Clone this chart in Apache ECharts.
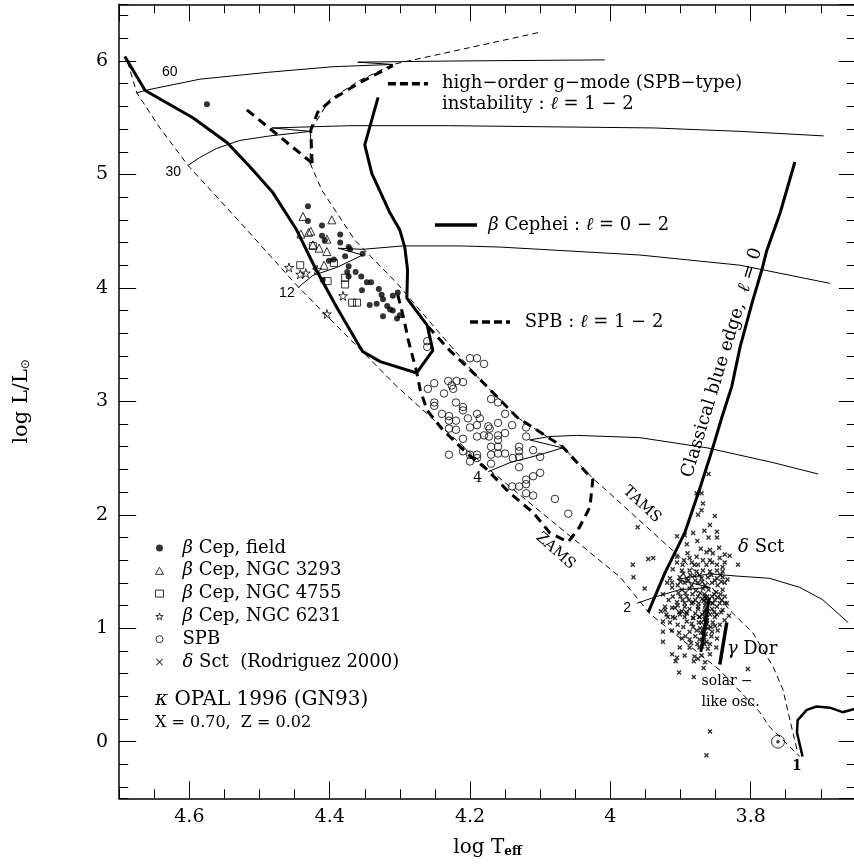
<!DOCTYPE html>
<html>
<head>
<meta charset="utf-8">
<title>HR diagram – pulsational instability</title>
<script src="https://cdn.jsdelivr.net/npm/echarts@6/dist/echarts.min.js"></script>
<style>
html,body{margin:0;padding:0;background:#fff;}
#chart{width:854px;height:865px;}
</style>
</head>
<body>
<div id="chart"></div>
<script>
// ================= DATA : [log Teff, log L/Lsun] =================
const xRange = [3.65, 4.70];
const yRange = [-0.5, 6.5];
const xMajorStep = 0.2, xMinorStep = 0.05;
const yMajorStep = 1, yMinorStep = 0.2;

const zams = [[4.688,5.99],[4.675,5.72],[4.642,5.41],[4.602,5.08],[4.528,4.58],[4.445,4.01],[4.304,3.13],[4.175,2.41],[3.986,1.45],[3.944,1.13],[3.844,0.63],[3.787,0.26],[3.773,0.13],[3.730,-0.13]];
const tams = [[4.103,6.25],[4.310,5.97],[4.357,5.83],[4.400,5.66],[4.427,5.39],[4.428,5.10],[4.411,4.86],[4.364,4.42],[4.304,4.04],[4.260,3.72],[4.190,3.22],[4.133,2.86],[4.068,2.60],[4.025,2.32],[4.001,2.19],[3.912,1.69],[3.858,1.38],[3.830,1.16],[3.797,0.96],[3.768,0.66],[3.754,0.46],[3.744,0.19],[3.734,-0.07]];

const track60 = [[4.675,5.72],[4.660,5.745],[4.585,5.84],[4.489,5.90],[4.395,5.95],[4.310,5.97],[4.360,5.99],[4.229,6.00],[4.008,6.01]];
const track30 = [[4.602,5.08],[4.585,5.15],[4.561,5.23],[4.528,5.30],[4.485,5.34],[4.427,5.38],[4.482,5.41],[4.371,5.43],[4.229,5.43],[4.086,5.42],[3.938,5.41],[3.815,5.38],[3.696,5.34]];
const track12 = [[4.445,4.00],[4.438,4.04],[4.424,4.11],[4.390,4.18],[4.353,4.29],[4.388,4.35],[4.353,4.34],[4.296,4.37],[4.214,4.37],[4.157,4.36],[4.100,4.34],[3.958,4.29],[3.815,4.20],[3.687,4.04]];
const track4  = [[4.174,2.38],[4.143,2.46],[4.100,2.53],[4.068,2.59],[4.115,2.66],[4.086,2.69],[4.048,2.70],[3.958,2.68],[3.862,2.59],[3.768,2.46],[3.704,2.36]];
const track2  = [[3.962,1.22],[3.934,1.28],[3.901,1.34],[3.858,1.36],[3.905,1.43],[3.858,1.48],[3.820,1.46],[3.773,1.44],[3.730,1.36],[3.697,1.25],[3.661,1.05]];
const track1  = [[3.726,-0.13],[3.734,0.08],[3.733,0.19],[3.720,0.28],[3.706,0.31],[3.687,0.30],[3.669,0.26],[3.651,0.29]];

// beta Cephei instability boundary (l = 0-2)
const betaCepEdge = [[4.692,6.04],[4.663,5.74],[4.595,5.50],[4.546,5.28],[4.514,5.07],[4.481,4.84],[4.447,4.51],[4.421,4.18],[4.390,3.83],[4.357,3.48],[4.353,3.44],[4.328,3.35],[4.276,3.25],[4.253,3.45],[4.261,3.67],[4.290,3.91],[4.289,4.16],[4.293,4.36],[4.300,4.51],[4.314,4.66],[4.340,5.01],[4.350,5.26],[4.331,5.68]];
// high-order g-mode instability (massive stars)
const gmodeBlue = [[4.518,5.57],[4.425,5.10]];
const gmodeRed  = [[4.425,5.10],[4.427,5.39],[4.417,5.55],[4.397,5.66],[4.357,5.81],[4.310,5.96]];
// SPB instability boundary (l = 1-2)
const spbEdge = [[4.303,3.94],[4.294,3.72],[4.288,3.54],[4.276,3.26],[4.271,3.10],[4.261,2.92],[4.239,2.75],[4.204,2.54],[4.176,2.40],[4.143,2.19],[4.110,2.02],[4.086,1.84],[4.060,1.76],[4.044,1.89],[4.029,2.07],[4.025,2.31],[4.068,2.60],[4.133,2.86],[4.190,3.22],[4.229,3.45],[4.260,3.66]];
// classical blue edge (l = 0)
const classicalBlueEdge = [[3.737,5.11],[3.758,4.66],[3.777,4.33],[3.784,4.16],[3.797,3.89],[3.815,3.48],[3.827,3.13],[3.841,2.86],[3.855,2.57],[3.872,2.24],[3.894,1.84],[3.922,1.49],[3.946,1.14]];
// gamma Doradus strip
const gDorBlue = [[3.859,1.27],[3.871,0.79]];
const gDorRed  = [[3.834,1.05],[3.844,0.68]];

// observed stars
const bCepField = [[4.575,5.62],[4.431,4.72],[4.431,4.59],[4.411,4.55],[4.385,4.47],[4.411,4.46],[4.407,4.42],[4.385,4.40],[4.373,4.36],[4.371,4.34],[4.378,4.28],[4.353,4.30],[4.401,4.24],[4.373,4.19],[4.375,4.14],[4.363,4.14],[4.373,4.10],[4.355,4.10],[4.347,4.05],[4.341,4.05],[4.410,4.07],[4.354,3.98],[4.330,3.99],[4.326,3.94],[4.324,3.90],[4.310,3.93],[4.303,3.96],[4.333,3.86],[4.343,3.85],[4.318,3.84],[4.314,3.81],[4.310,3.80],[4.324,3.75],[4.300,3.76],[4.304,3.73],[4.394,4.25]];
const bCepN3293 = [[4.438,4.63],[4.397,4.60],[4.427,4.50],[4.430,4.49],[4.441,4.475],[4.404,4.43],[4.424,4.38],[4.415,4.35],[4.404,4.32],[4.408,4.20]];
const bCepN4755 = [[4.442,4.20],[4.424,4.37],[4.394,4.22],[4.403,4.06],[4.378,4.09],[4.378,4.03],[4.368,3.87],[4.361,3.87]];
const bCepN6231 = [[4.458,4.18],[4.442,4.12],[4.434,4.13],[4.418,4.16],[4.381,3.93],[4.404,3.77]];
const spbStars = [[4.261,3.53],[4.261,3.48],[4.200,3.38],[4.190,3.38],[4.180,3.33],[4.251,3.16],[4.231,3.18],[4.219,3.18],[4.210,3.17],[4.226,3.14],[4.224,3.11],[4.237,3.07],[4.260,3.11],[4.251,2.99],[4.251,2.96],[4.220,2.99],[4.210,2.95],[4.210,2.92],[4.170,3.02],[4.160,2.99],[4.240,2.89],[4.230,2.87],[4.230,2.83],[4.220,2.83],[4.203,2.85],[4.190,2.89],[4.186,2.85],[4.150,2.89],[4.230,2.76],[4.220,2.75],[4.200,2.77],[4.190,2.79],[4.174,2.78],[4.172,2.76],[4.160,2.81],[4.140,2.79],[4.120,2.77],[4.210,2.67],[4.190,2.69],[4.180,2.70],[4.173,2.69],[4.160,2.70],[4.160,2.66],[4.150,2.72],[4.120,2.69],[4.170,2.60],[4.160,2.60],[4.130,2.60],[4.130,2.56],[4.230,2.53],[4.210,2.56],[4.200,2.53],[4.190,2.53],[4.200,2.47],[4.190,2.50],[4.170,2.53],[4.160,2.54],[4.150,2.54],[4.139,2.50],[4.130,2.51],[4.110,2.57],[4.100,2.51],[4.170,2.45],[4.130,2.42],[4.110,2.34],[4.100,2.37],[4.120,2.31],[4.120,2.27],[4.130,2.25],[4.140,2.25],[4.120,2.19],[4.110,2.17],[4.079,2.14],[4.060,2.01]];
const dSctStars = [[3.860,2.36],[3.877,2.19],[3.870,2.19],[3.868,2.10],[3.870,2.04],[3.875,2.00],[3.851,1.99],[3.858,1.91],[3.961,1.89],[3.848,1.85],[3.882,1.84],[3.894,1.82],[3.905,1.81],[3.860,1.80],[3.848,1.80],
[3.891,1.74],[3.871,1.70],[3.858,1.69],[3.845,1.71],[3.854,1.66],[3.837,1.65],[3.830,1.64],
[3.905,1.63],[3.939,1.62],[3.946,1.61],[3.895,1.60],[3.887,1.62],[3.877,1.63],[3.868,1.60],[3.858,1.60],[3.844,1.62],[3.837,1.58],
[3.968,1.56],[3.905,1.58],[3.897,1.56],[3.884,1.58],[3.875,1.56],[3.863,1.56],[3.848,1.56],[3.840,1.54],[3.818,1.56],
[3.911,1.52],[3.898,1.51],[3.887,1.51],[3.877,1.50],[3.868,1.51],[3.858,1.50],[3.848,1.51],[3.840,1.50],
[3.967,1.45],[3.915,1.44],[3.901,1.45],[3.891,1.44],[3.880,1.46],[3.870,1.44],[3.861,1.45],[3.848,1.44],[3.840,1.45],[3.833,1.43],
[3.912,1.40],[3.904,1.38],[3.894,1.40],[3.884,1.38],[3.875,1.40],[3.865,1.38],[3.855,1.40],[3.847,1.38],[3.837,1.40],
[3.951,1.35],[3.912,1.36],[3.898,1.34],[3.887,1.35],[3.878,1.33],[3.868,1.35],[3.860,1.34],[3.849,1.32],[3.840,1.34],
[3.911,1.28],[3.900,1.28],[3.891,1.28],[3.875,1.28],[3.865,1.28],[3.855,1.28],[3.847,1.27],[3.837,1.28],
[3.905,1.23],[3.894,1.22],[3.882,1.23],[3.874,1.22],[3.863,1.23],[3.854,1.22],[3.844,1.22],[3.834,1.22],
[3.922,1.16],[3.908,1.18],[3.898,1.15],[3.887,1.17],[3.875,1.17],[3.865,1.16],[3.855,1.17],[3.840,1.16],
[3.918,1.10],[3.908,1.09],[3.894,1.10],[3.882,1.09],[3.873,1.10],[3.863,1.09],[3.851,1.10],[3.837,1.07],
[3.922,1.19],[3.912,1.18],[3.904,1.20],[3.894,1.19],[3.884,1.22],[3.875,1.19],[3.855,1.22],[3.848,1.19],[3.837,1.22],
[3.920,1.12],[3.911,1.10],[3.901,1.12],[3.891,1.13],[3.882,1.09],[3.873,1.10],[3.858,1.12],[3.848,1.12],[3.831,1.11],
[3.925,1.06],[3.915,1.05],[3.904,1.03],[3.891,1.06],[3.884,1.04],[3.874,1.05],[3.863,1.05],[3.854,1.05],[3.844,1.03],
[3.925,0.97],[3.912,0.98],[3.902,0.96],[3.887,0.97],[3.877,0.98],[3.868,0.96],[3.855,0.97],[3.847,0.98],
[3.925,0.88],[3.898,0.91],[3.887,0.90],[3.873,0.90],[3.863,0.88],[3.848,0.91],
[3.901,0.83],[3.887,0.83],[3.873,0.83],[3.861,0.82],[3.849,0.83],
[3.912,0.77],[3.905,0.74],[3.894,0.76],[3.880,0.75],[3.870,0.76],[3.858,0.77],
[3.907,0.71],[3.881,0.71],[3.875,0.73],[3.865,0.70],
[3.902,0.61],[3.881,0.57],[3.867,0.65],[3.804,0.64],[3.858,0.09],[3.863,-0.12],
[3.866,1.30],[3.864,1.26],[3.867,1.24],[3.865,1.20],[3.863,1.17],[3.866,1.14],[3.864,1.11],[3.866,1.08],[3.863,1.04],[3.865,1.01],[3.867,0.99],[3.864,0.95],[3.866,0.92],[3.868,0.89],[3.866,0.86],[3.869,0.84],[3.862,1.28],[3.860,1.24],[3.861,1.15],[3.862,1.07],[3.861,1.00],[3.869,1.12],[3.870,1.05],[3.871,0.96],
[3.896,1.48],[3.886,1.47],[3.873,1.47],[3.856,1.47],[3.843,1.47],[3.900,1.41],[3.889,1.42],[3.879,1.42],[3.869,1.41],[3.851,1.42],[3.842,1.41],[3.903,1.31],[3.893,1.31],[3.883,1.30],[3.872,1.31],[3.852,1.30],[3.843,1.30],[3.897,1.25],[3.888,1.25],[3.879,1.25],[3.869,1.26],[3.851,1.25],[3.841,1.25],[3.902,1.14],[3.892,1.14],[3.879,1.13],[3.852,1.14],[3.842,1.14],[3.896,1.01],[3.882,1.01],[3.872,1.00],[3.857,1.01],[3.851,1.02],[3.893,0.93],[3.879,0.93],[3.856,0.93],[3.885,0.87],[3.876,0.86],[3.858,0.86],[3.919,1.40],[3.925,1.30],[3.917,1.25],[3.928,1.15],[3.880,1.56],[3.855,1.58],[3.890,1.66],[3.863,1.67],[3.876,1.77],[3.866,1.86]];
const sun = [[3.761, 0.0]];

// key samples for the instability-strip line styles
const keyGmode = [[4.317,5.80],[4.260,5.80]];
const keyBetaCep = [[4.250,4.555],[4.190,4.555]];
const keySPB = [[4.200,3.70],[4.143,3.70]];

// text annotations: anchor in data coordinates
const annotations = [
  {text:'60', at:[4.628,5.90], style:'mass'},
  {text:'30', at:[4.623,5.02], style:'mass'},
  {text:'12', at:[4.461,3.95], style:'mass'},
  {text:'4',  at:[4.189,2.32], style:'massSerif'},
  {text:'2',  at:[3.976,1.18], style:'mass'},
  {text:'1',  at:[3.734,-0.22], style:'massBold'},
  {text:'TAMS', at:[3.955,2.09], style:'seq', rot:-43},
  {text:'ZAMS', at:[4.078,1.68], style:'seq', rot:-42},
  {text:'Classical blue edge,  {i|ℓ} = 0', at:[3.841,3.34], style:'big', rot:73},
  {text:'{i|δ} Sct', at:[3.785,1.71], style:'big'},
  {text:'{i|γ} Dor', at:[3.798,0.81], style:'big'},
  {text:'solar −', at:[3.870,0.53], style:'small', left:true},
  {text:'like osc.', at:[3.870,0.35], style:'small', left:true},
  {text:'high−order g−mode (SPB−type)', at:[4.240,5.80], style:'big', left:true},
  {text:'instability : {i|ℓ} = 1 − 2', at:[4.240,5.62], style:'big', left:true},
  {text:'{i|β} Cephei : {i|ℓ} = 0 − 2', at:[4.174,4.555], style:'big', left:true},
  {text:'SPB : {i|ℓ} = 1 − 2', at:[4.122,3.70], style:'big', left:true},
  {text:'{i|κ} OPAL 1996 (GN93)', at:[4.649,0.37], style:'opal', left:true},
  {text:'X = 0.70,  Z = 0.02', at:[4.649,0.165], style:'comp', left:true}
];

// ================= STYLE =================
const SERIF = 'DejaVu Serif';
const SANS = 'Liberation Sans';
const annStyles = {
  mass: {fontFamily:SANS, fontSize:14},
  massSerif: {fontFamily:SERIF, fontSize:14},
  massBold: {fontFamily:SERIF, fontSize:14, fontWeight:'bold'},
  seq: {fontFamily:SERIF, fontSize:15},
  big: {fontFamily:SERIF, fontSize:18},
  small: {fontFamily:SERIF, fontSize:14},
  opal: {fontFamily:SERIF, fontSize:20},
  comp: {fontFamily:SERIF, fontSize:16}
};
const STAR = 'path://M50,0L61,35L98,35L68,57L79,91L50,70L21,91L32,57L2,35L39,35Z';
const CROSS = 'path://M0,2L2,0L5,3L8,0L10,2L7,5L10,8L8,10L5,7L2,10L0,8L3,5Z';
const OPEN = {color:'rgba(0,0,0,0)', borderColor:'#000', borderWidth:1};

function line(name, data, width, type, z) {
  return {name, type:'line', data, symbol:'none', showSymbol:false, silent:true,
    animation:false, z: z || 2, clip:true,
    lineStyle:{color:'#000', width, type: type || 'solid', cap:'butt', join:'round'},
    emphasis:{disabled:true}};
}
function scatter(name, data, symbol, size, filled, z) {
  return {name, type:'scatter', data, symbol, symbolSize:size, silent:true, animation:false,
    z: z || 5,
    itemStyle: filled ? {color:'#000', borderWidth:0} : Object.assign({}, OPEN),
    emphasis:{disabled:true}};
}

const THIN_DASH = [6,4];
const THICK_DASH = [9,6];

const series = [
  line('ZAMS', zams, 1, THIN_DASH),
  line('TAMS', tams, 1, THIN_DASH),
  line('60 Msun', track60, 1),
  line('30 Msun', track30, 1),
  line('12 Msun', track12, 1),
  line('4 Msun', track4, 1),
  line('2 Msun', track2, 1),
  line('1 Msun', track1, 2.5),
  line('beta Cep strip', betaCepEdge, 3),
  line('g-mode blue', gmodeBlue, 3, THICK_DASH),
  line('g-mode red', gmodeRed, 3, THICK_DASH),
  line('SPB strip', spbEdge, 3, THICK_DASH),
  line('classical blue edge', classicalBlueEdge, 3),
  line('gDor blue', gDorBlue, 3),
  line('gDor red', gDorRed, 3.5),
  line('key g-mode', keyGmode, 3.5, [8,4]),
  line('key beta Cep', keyBetaCep, 3.5),
  line('key SPB', keySPB, 3.5, [8,4]),
  scatter('δ Sct  (Rodriguez 2000)', dSctStars, CROSS, 5, true, 4),
  scatter('SPB', spbStars, 'circle', 7.5, false),
  scatter('β Cep, NGC 6231', bCepN6231, STAR, 9, false, 6),
  scatter('β Cep, NGC 4755', bCepN4755, 'rect', 7, false, 6),
  scatter('β Cep, NGC 3293', bCepN3293, 'triangle', 8, false, 6),
  scatter('β Cep, field', bCepField, 'circle', 6, true, 7),
  scatter('Sun', sun, 'circle', 13, false, 6),
  scatter('Sun centre', sun, 'circle', 3.5, true, 6),
  {
    name:'annotations', type:'scatter', symbol:'circle', symbolSize:0, silent:true,
    animation:false, z:8, itemStyle:{color:'rgba(0,0,0,0)'},
    data: annotations.map(a => {
      const st = annStyles[a.style];
      return {
        value: a.at,
        label: Object.assign({
          show:true, formatter:a.text, color:'#000', opacity:1,
          textBorderWidth:0, textShadowBlur:0,
          position: a.left ? 'right' : 'inside', distance:0,
          rotate: a.rot || 0,
          rich:{i:{fontStyle:'italic', fontFamily:SERIF, fontSize:st.fontSize, color:'#000', textBorderWidth:0}}
        }, st)
      };
    })
  }
];

const legendItems = [
  {name:'β Cep, field', icon:'circle', itemStyle:{color:'#000', borderWidth:0}},
  {name:'β Cep, NGC 3293', icon:'triangle', itemStyle:OPEN},
  {name:'β Cep, NGC 4755', icon:'rect', itemStyle:OPEN},
  {name:'β Cep, NGC 6231', icon:STAR, itemStyle:OPEN},
  {name:'SPB', icon:'circle', itemStyle:OPEN},
  {name:'δ Sct  (Rodriguez 2000)', icon:'path://M0,1L1,0L5,4L9,0L10,1L6,5L10,9L9,10L5,6L1,10L0,9L4,5Z', itemStyle:{color:'#000', borderWidth:0}}
];

function xAxis(position, major, withLabels) {
  return {
    type:'value', position, min:xRange[0], max:xRange[1], inverse:true,
    minInterval: major ? xMajorStep : xMinorStep,
    maxInterval: major ? xMajorStep : xMinorStep,
    splitNumber: 5,
    axisLine:{show: major, onZero:false, lineStyle:{color:'#000', width:1.5}},
    axisTick:{show:true, inside:true, length: major ? 17 : 9, lineStyle:{color:'#000', width:1}},
    splitLine:{show:false}, minorTick:{show:false},
    axisLabel:{show: withLabels, showMinLabel:false, showMaxLabel:false, margin:9,
      color:'#000', fontFamily:SERIF, fontSize:19},
    name: withLabels ? '{a|log T}{b|eff}' : '',
    nameLocation:'middle', nameGap:37,
    nameTextStyle:{color:'#000', fontFamily:SERIF, fontSize:20,
      rich:{a:{fontFamily:SERIF, fontSize:20, color:'#000', verticalAlign:'bottom', lineHeight:22},
            b:{fontFamily:SERIF, fontSize:12, fontWeight:'bold', color:'#000', verticalAlign:'bottom', lineHeight:12}}}
  };
}
function yAxis(position, major, withLabels) {
  return {
    type:'value', position, min:yRange[0], max:yRange[1],
    minInterval: major ? yMajorStep : yMinorStep,
    maxInterval: major ? yMajorStep : yMinorStep,
    splitNumber: 7,
    axisLine:{show: major, onZero:false, lineStyle:{color:'#000', width:1.5}},
    axisTick:{show:true, inside:true, length: major ? 17 : 9, lineStyle:{color:'#000', width:1}},
    splitLine:{show:false}, minorTick:{show:false},
    axisLabel:{show: withLabels, showMinLabel:false, showMaxLabel:false, margin:11,
      color:'#000', fontFamily:SERIF, fontSize:19},
    name: withLabels ? '{a|log L/L}{b|⊙}' : '',
    nameLocation:'middle', nameGap:87, nameRotate:90,
    nameTextStyle:{color:'#000', fontFamily:SERIF, fontSize:21,
      rich:{a:{fontFamily:SERIF, fontSize:21, color:'#000', verticalAlign:'bottom', lineHeight:23},
            b:{fontFamily:'DejaVu Sans', fontSize:12, color:'#000', verticalAlign:'bottom', lineHeight:12}}}
  };
}

const option = {
  backgroundColor:'#fff',
  animation:false,
  grid:{left:119.2, top:4.3, right:-1.9, bottom:66.6, containLabel:false, outerBoundsMode:'none'},
  xAxis:[xAxis('bottom', true, true), xAxis('bottom', false, false), xAxis('top', true, false), xAxis('top', false, false)],
  yAxis:[yAxis('left', true, true), yAxis('left', false, false), yAxis('right', true, false), yAxis('right', false, false)],
  legend:{
    data: legendItems, orient:'vertical', left:155, top:538, padding:0,
    itemWidth:8, itemHeight:7, itemGap:2.8, selectedMode:false, symbolKeepAspect:true,
    textStyle:{color:'#000', fontFamily:SERIF, fontSize:18, lineHeight:20, padding:[0,0,0,14],
      rich:{i:{fontStyle:'italic', fontFamily:SERIF, fontSize:18, color:'#000', lineHeight:20}}},
    formatter: n => n.replace(/^([βδ])/, '{i|$1}')
  },
  series
};

const chart = echarts.init(document.getElementById('chart'), null, {renderer:'canvas'});
chart.setOption(option);
</script>
</body>
</html>
